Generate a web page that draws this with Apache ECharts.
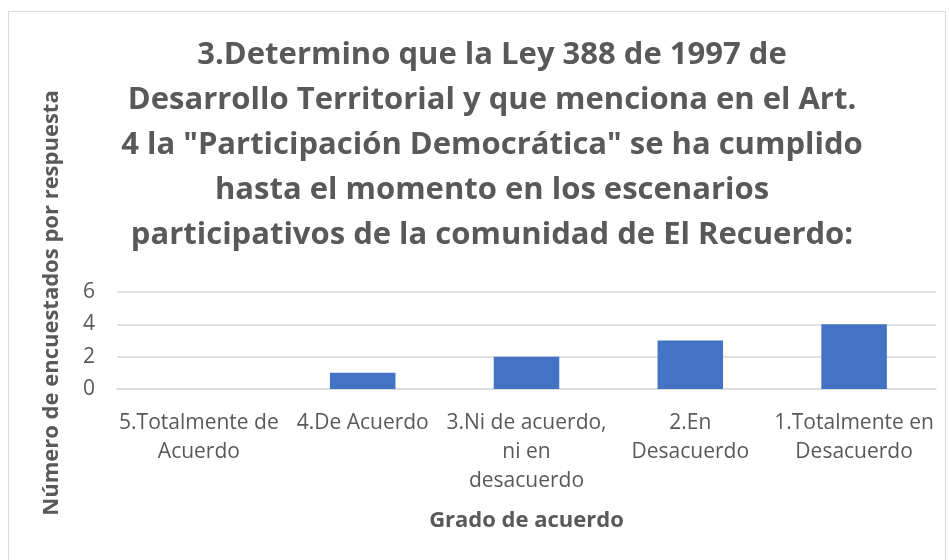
<!DOCTYPE html>
<html><head><meta charset="utf-8">
<script src="https://cdn.jsdelivr.net/npm/echarts@6/dist/echarts.min.js"></script>
<style>html,body{margin:0;padding:0;background:#fff}#c{width:949px;height:560px}</style>
</head><body><div id="c"></div>
<script>
const titleText = '3.Determino que la Ley 388 de 1997 de\nDesarrollo Territorial y que menciona en el Art.\n4 la "Participación Democrática" se ha cumplido\nhasta el momento en los escenarios\nparticipativos de la comunidad de El Recuerdo:';
const categories = ['5.Totalmente de\nAcuerdo', '4.De Acuerdo', '3.Ni de acuerdo,\nni en\ndesacuerdo', '2.En\nDesacuerdo', '1.Totalmente en\nDesacuerdo'];
const values = [0, 1, 2, 3, 4];
const yTicks = [0, 2, 4, 6];
const xName = 'Grado de acuerdo';
const yName = 'Número de encuestados por respuesta';

const FONT = '"Open Sans", sans-serif';
const chart = echarts.init(document.getElementById('c'), null, {renderer: 'canvas'});
chart.setOption({
  animation: false,
  backgroundColor: '#fff',
  title: {
    text: titleText,
    left: 487, top: 28, textAlign: 'center',
    textStyle: {fontFamily: FONT, fontWeight: 'bold', fontSize: 31, lineHeight: 45, color: '#595959'}
  },
  graphic: [
    {type: 'rect', shape: {x: 8.5, y: 11.5, width: 937, height: 560}, style: {fill: 'none', stroke: '#d9d9d9', lineWidth: 1}, silent: true},
    {type: 'text', x: 52, y: 303, rotation: Math.PI / 2,
     style: {text: yName, fontFamily: FONT, fontWeight: 'bold', fontSize: 22, fill: '#595959', align: 'center', verticalAlign: 'middle'}}
  ],
  grid: {left: 117, right: 13, top: 292, bottom: 171, containLabel: false},
  xAxis: {
    type: 'category', data: categories,
    name: xName, nameLocation: 'middle', nameGap: 121,
    nameTextStyle: {fontFamily: FONT, fontWeight: 'bold', fontSize: 22, color: '#595959'},
    axisLine: {show: true, lineStyle: {color: '#d9d9d9', width: 1.5}},
    axisTick: {show: false},
    axisLabel: {fontFamily: FONT, fontSize: 21, color: '#595959', lineHeight: 29, margin: 20, interval: 0}
  },
  yAxis: {
    type: 'value', min: yTicks[0], max: yTicks[yTicks.length - 1], interval: 2,
    axisLine: {show: false}, axisTick: {show: false},
    splitLine: {lineStyle: {color: '#d9d9d9', width: 1.5}},
    axisLabel: {fontFamily: FONT, fontSize: 21, color: '#595959', margin: 22}
  },
  series: [{
    type: 'bar', data: values, barWidth: '40%',
    itemStyle: {color: '#4472c4'}
  }]
});
</script></body></html>
